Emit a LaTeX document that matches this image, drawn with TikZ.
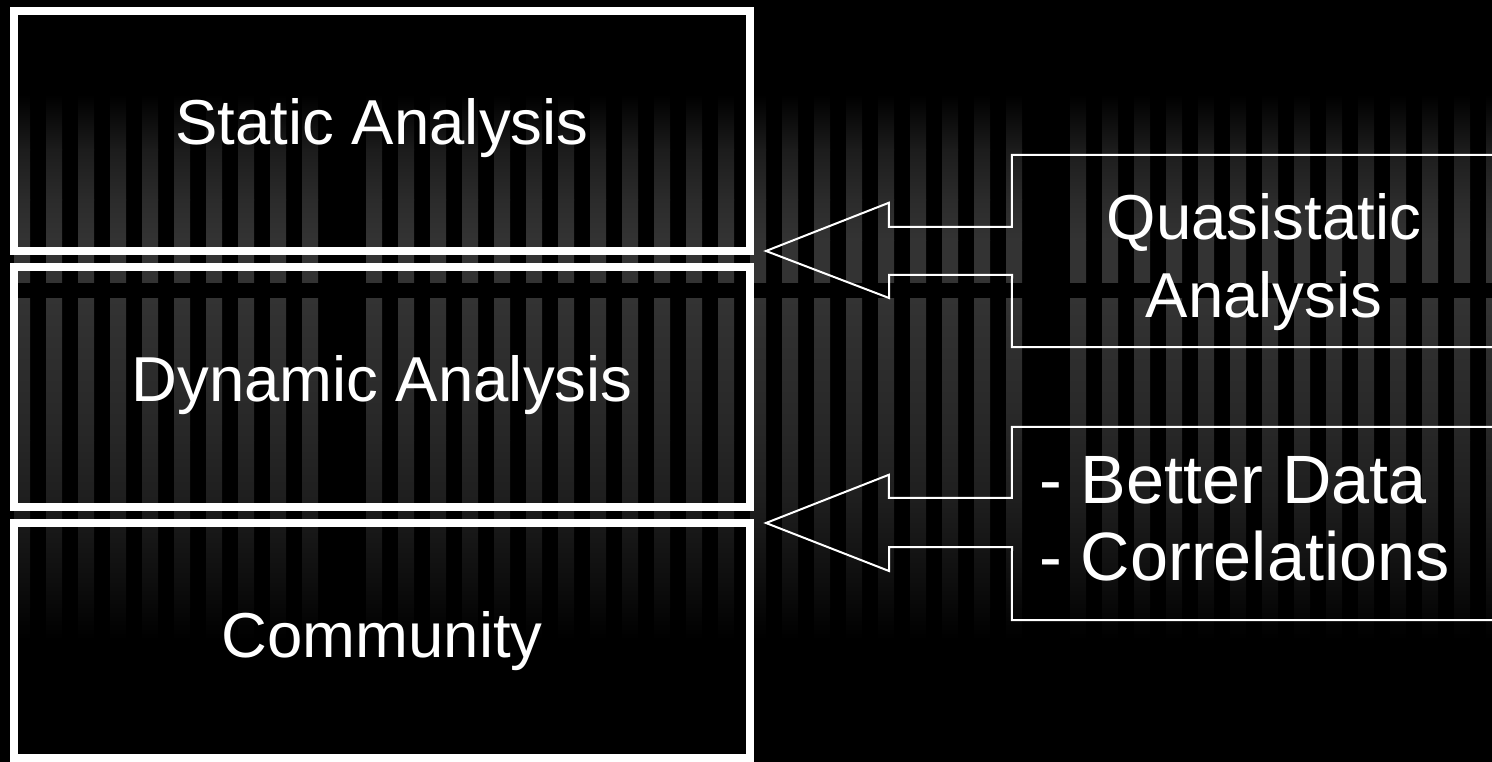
\documentclass[tikz,border=0pt]{standalone}
\usepackage{fontspec}
\setmainfont{Liberation Sans}
\definecolor{sA}{RGB}{28,28,28}
\definecolor{sB}{RGB}{43,43,43}
\definecolor{sC}{RGB}{51,51,51}
\definecolor{sD}{RGB}{38,38,38}
\definecolor{sE}{RGB}{30,30,30}
\definecolor{sF}{RGB}{24,24,24}
\definecolor{sG}{RGB}{14,14,14}
\begin{document}
\begin{tikzpicture}[x=1pt,y=-1pt,
  bigbox/.style={draw=white, line width=8pt, minimum width=736pt, inner sep=0pt},
  callbox/.style={inner sep=0pt, minimum width=508pt},
  callout/.style={draw=white, line width=2pt, line join=miter},
  lbl/.style={text=white, font=\fontsize{63.5}{77}\selectfont, inner sep=0pt},
  lblbig/.style={text=white, font=\fontsize{68.4}{80}\selectfont, inner sep=0pt}]
\useasboundingbox (0,0) rectangle (1492,762);
\clip (0,0) rectangle (1492,762);
\fill[black] (0,0) rectangle (1492,762);
% background stripes
\begin{scope}
\clip \foreach \i in {0,...,9,11,12,...,31,33,34,...,46} {({14+32*\i},0) rectangle ++(16,762)};
\fill[top color=black, bottom color=sA] (0,95) rectangle (1492,150.5);
\fill[top color=sA, bottom color=sB] (0,150) rectangle (1492,200.5);
\fill[top color=sB, bottom color=sC] (0,200) rectangle (1492,240.5);
\fill[sC] (0,240) rectangle (1492,283);
\fill[top color=sC, bottom color=sD] (0,298) rectangle (1492,440.5);
\fill[top color=sD, bottom color=sE] (0,440) rectangle (1492,500.5);
\fill[top color=sE, bottom color=sF] (0,500) rectangle (1492,530.5);
\fill[top color=sF, bottom color=sG] (0,530) rectangle (1492,580.5);
\fill[top color=sG, bottom color=black] (0,580) rectangle (1492,640);
\end{scope}
% left boxes
\node[bigbox, minimum height=240pt] (s) at (382,131) {};
\node[bigbox, minimum height=240pt] (d) at (382,387) {};
\node[bigbox, minimum height=235pt] (c) at (382,640.5) {};
\node[lbl, anchor=base] (st) at (382,145) {Static Analysis};
\node[lbl, anchor=base] (dt) at (382,401) {Dynamic Analysis};
\node[lbl, anchor=base] (ct) at (382,657) {Community};
% callouts
\node[callbox, minimum height=192pt] (q) at (1266,251) {};
\node[callbox, minimum height=193pt] (b) at (1266,523.5) {};
\coordinate (tipA) at (766,251);
\coordinate (tipB) at (766,523);
\draw[callout] (q.north east) -- (q.north west) -- ++(0,72) -- ++(-123,0) -- ++(0,-24)
  -- (tipA) -- ++(123,47) -- ++(0,-23) -- ++(123,0) -- (q.south west) -- (q.south east);
\draw[callout] (b.north east) -- (b.north west) -- ++(0,71) -- ++(-123,0) -- ++(0,-23)
  -- (tipB) -- ++(123,48) -- ++(0,-24) -- ++(123,0) -- (b.south west) -- (b.south east);
\node[lbl, anchor=base] (q1) at (1264,240) {Quasistatic};
\node[lbl, anchor=base] (q2) at (1264,317) {Analysis};
\node[lblbig, anchor=base west] (b1) at (1039,503) {- Better Data};
\node[lblbig, anchor=base west] (b2) at (1039,580) {- Correlations};
\end{tikzpicture}
\end{document}
